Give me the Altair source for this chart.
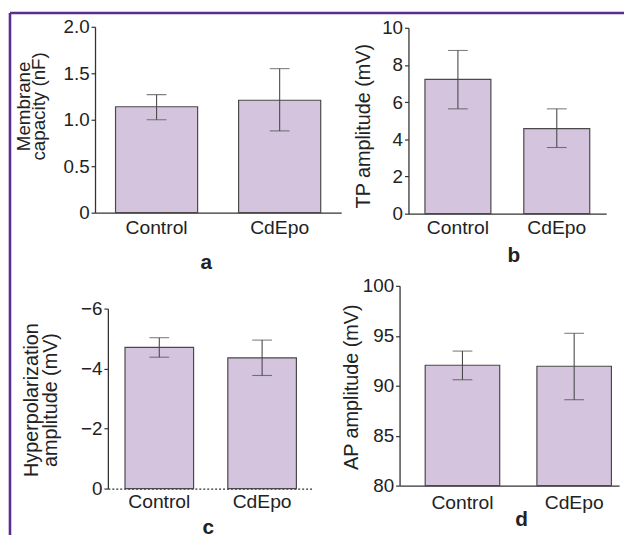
import altair as alt
import pandas as pd

groups = ["Control", "CdEpo"]

a_mean = [1.14, 1.21]
a_lo = [1.00, 0.88]
a_hi = [1.27, 1.55]

b_mean = [7.22, 4.58]
b_lo = [5.64, 3.56]
b_hi = [8.78, 5.64]

c_mean = [-4.71, -4.36]
c_lo = [-4.38, -3.77]
c_hi = [-5.03, -4.95]

d_mean = [92.05, 91.95]
d_lo = [90.6, 88.6]
d_hi = [93.47, 95.25]

FONT = "Liberation Sans"
FILL = "#d4c4de"
EDGE = "#4a4a4a"
AXC = "#333333"
PURPLE = "#5b2e8e"


def frame(mean, lo, hi, base):
    return pd.DataFrame({"group": groups, "mean": mean, "lo": lo, "hi": hi,
                         "base": [base] * len(groups)})


def panel(df, width, height, xscale, yscale, yaxis, xaxis, extra=None):
    base = alt.Chart(df)
    x = alt.X("group:N", sort=groups, scale=xscale, axis=xaxis)
    bars = base.mark_bar(fill=FILL, stroke=EDGE, strokeWidth=1.2).encode(
        x=x, y=alt.Y("mean:Q", scale=yscale, axis=yaxis), y2="base:Q")
    err = base.mark_rule(color=EDGE, strokeWidth=1.1).encode(
        x=alt.X("group:N", sort=groups), y="lo:Q", y2="hi:Q")
    cap_lo = base.mark_tick(color=EDGE, size=20, thickness=1.1).encode(
        x=alt.X("group:N", sort=groups), y="lo:Q")
    cap_hi = base.mark_tick(color=EDGE, size=20, thickness=1.1).encode(
        x=alt.X("group:N", sort=groups), y="hi:Q")
    layers = [bars, err, cap_lo, cap_hi]
    if extra is not None:
        layers += extra
    return alt.layer(*layers).properties(width=width, height=height)


def yax(values, title, tx, ty, fs=20, lh=None, offset=0,
        label_expr="format(datum.value, 'd')"):
    kw = dict(values=values, tickCount=12, title=title, titleX=tx, titleY=ty,
              titleAngle=270, titleAlign="center", titleBaseline="alphabetic",
              titleFontSize=fs, titleFontWeight="normal", titleColor="#222",
              titleFont=FONT, labelFontSize=19, labelFont=FONT, labelColor="#222",
              labelPadding=2, labelOverlap=False, labelBound=False, labelFlush=False,
              labelExpr=label_expr,
              tickSize=4, tickColor=AXC, tickWidth=1.2, domainColor=AXC,
              domainWidth=1.3, grid=False, offset=offset)
    if lh is not None:
        kw["titleLineHeight"] = lh
    return alt.Axis(**kw)


def xax(letter, tx, ty, pad, dash=None):
    kw = dict(title=letter, titleX=tx, titleY=ty, titleAngle=0, titleAlign="center",
              titleBaseline="alphabetic", titleFontSize=21, titleFontWeight="bold",
              titleFont=FONT, titleColor="#222", labelAngle=0, labelFontSize=19.5,
              labelFont=FONT, labelColor="#222", labelBaseline="alphabetic",
              labelPadding=pad, labelOverlap=False, ticks=False, tickSize=0,
              domainColor=AXC, domainWidth=1.3, grid=False)
    if dash is not None:
        kw["domainDash"] = dash
    return alt.Axis(**kw)


PI, PO = 0.333, 0.1667

# decorative frame (left and top edges)
border_df = pd.DataFrame({"k": [0]})
border_left = alt.Chart(border_df).mark_rule(color=PURPLE, strokeWidth=2.6, clip=False).encode(
    x=alt.value(-86), y=alt.value(-14), y2=alt.value(514))
border_top = alt.Chart(border_df).mark_rule(color=PURPLE, strokeWidth=2.6, clip=False).encode(
    x=alt.value(-86), x2=alt.value(535), y=alt.value(-14))

pa = panel(frame(a_mean, a_lo, a_hi, 0), 249, 188,
           alt.Scale(paddingInner=PI, paddingOuter=PO),
           alt.Scale(domain=[0, 2]),
           yax([0, 0.5, 1.0, 1.5, 2.0], ["Membrane", "capacity (nF)"], -66, 80, fs=19, lh=15,
               label_expr="datum.value == 0 ? '0' : format(datum.value, '.1f')"),
           xax("a", 112, 56, 21),
           extra=[border_left, border_top])

pb = panel(frame(b_mean, b_lo, b_hi, 0), 209, 189,
           alt.Scale(paddingInner=PI, paddingOuter=PO, range=[9, 209]),
           alt.Scale(domain=[0, 10], range=[189, 1]),
           yax([0, 2, 4, 6, 8, 10], "TP amplitude (mV)", -39, 100, offset=-9),
           xax("b", 115, 48, 20))

pc = panel(frame(c_mean, c_lo, c_hi, 0), 221, 205,
           alt.Scale(paddingInner=PI, paddingOuter=PO, range=[13, 221]),
           alt.Scale(domain=[0, -6], range=[205, 23]),
           yax([-6, -4, -2, 0], ["Hyperpolarization", "amplitude (mV)"], -71, 115, lh=19,
               offset=-13),
           xax("c", 114, 45, 19, dash=[2, 2]))

pd_ = panel(frame(d_mean, d_lo, d_hi, 80), 222, 202,
            alt.Scale(paddingInner=PI, paddingOuter=0.149, align=0.77),
            alt.Scale(domain=[80, 100]),
            yax([80, 85, 90, 95, 100], "AP amplitude (mV)", -43, 102),
            xax("d", 123, 40, 23))

chart = alt.concat(pa, pb, pc, pd_, columns=2, spacing={"row": 73, "column": 59},
                   bounds="flush").properties(padding=0).configure_view(stroke=None)

chart.save("out.html", embed_options={"renderer": "svg", "actions": False})
